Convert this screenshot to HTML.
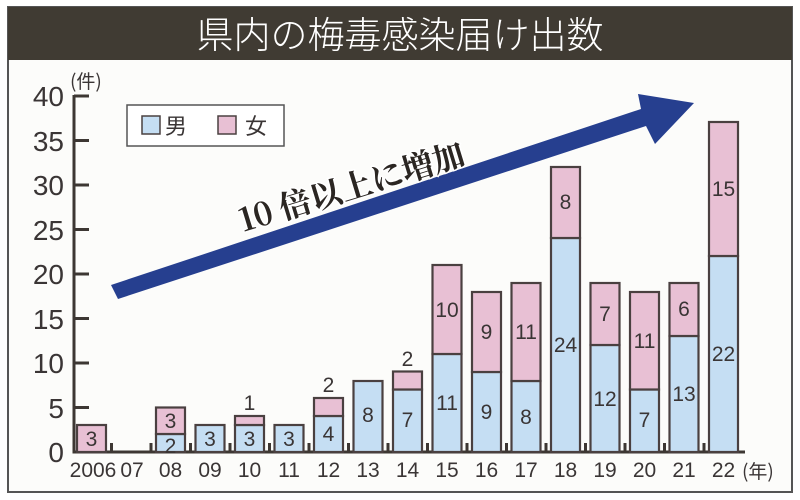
<!DOCTYPE html>
<html><head><meta charset="utf-8"><style>
html,body{margin:0;padding:0;background:#fff;}
svg{display:block;}
text{font-family:"Liberation Sans","Noto Sans CJK JP",sans-serif;}
</style></head><body>
<svg width="800" height="500" viewBox="0 0 800 500" xmlns="http://www.w3.org/2000/svg">
<rect x="0" y="0" width="800" height="500" fill="#ffffff"/>
<rect x="8" y="7" width="784" height="485" fill="#fcfcfa" stroke="#555" stroke-width="2"/>
<rect x="8" y="7" width="784" height="53" fill="#403b33"/>
<text x="400" y="48" text-anchor="middle" font-size="37" fill="#fff" style="font-family:'Noto Sans CJK JP',sans-serif;font-weight:300">県内の梅毒感染届け出数</text>

<g stroke="#3d3733" stroke-width="3" fill="none">
<line x1="74" y1="95" x2="74" y2="453"/>
<line x1="72.5" y1="452" x2="745" y2="452"/>
<line x1="74" y1="96" x2="89" y2="96"/>
<line x1="74" y1="140.5" x2="89" y2="140.5"/>
<line x1="74" y1="185" x2="89" y2="185"/>
<line x1="74" y1="229.5" x2="89" y2="229.5"/>
<line x1="74" y1="274" x2="89" y2="274"/>
<line x1="74" y1="318.5" x2="89" y2="318.5"/>
<line x1="74" y1="363" x2="89" y2="363"/>
<line x1="74" y1="407.5" x2="89" y2="407.5"/>
</g>
<g stroke="#3d3733" stroke-width="3">
<line x1="111.5" y1="443" x2="111.5" y2="452"/><line x1="151" y1="443" x2="151" y2="452"/>
<line x1="190.5" y1="443" x2="190.5" y2="452"/><line x1="230" y1="443" x2="230" y2="452"/>
<line x1="269.5" y1="443" x2="269.5" y2="452"/><line x1="309" y1="443" x2="309" y2="452"/>
<line x1="348.5" y1="443" x2="348.5" y2="452"/><line x1="388" y1="443" x2="388" y2="452"/>
<line x1="427.5" y1="443" x2="427.5" y2="452"/><line x1="467" y1="443" x2="467" y2="452"/>
<line x1="506.5" y1="443" x2="506.5" y2="452"/><line x1="546" y1="443" x2="546" y2="452"/>
<line x1="585.5" y1="443" x2="585.5" y2="452"/><line x1="625" y1="443" x2="625" y2="452"/>
<line x1="664.5" y1="443" x2="664.5" y2="452"/><line x1="704" y1="443" x2="704" y2="452"/>
</g>
<g font-size="28" fill="#3a3535" text-anchor="end">
<text x="64" y="106">40</text><text x="64" y="151">35</text><text x="64" y="195">30</text>
<text x="64" y="240">25</text><text x="64" y="284">20</text><text x="64" y="329">15</text>
<text x="64" y="373">10</text><text x="64" y="418">5</text><text x="64" y="462">0</text>
</g>
<text x="70" y="88" font-size="19" fill="#3a3535" style="font-family:'Noto Sans CJK JP',sans-serif">(件)</text>
<text x="742" y="478" font-size="19" fill="#3a3535" style="font-family:'Noto Sans CJK JP',sans-serif">(年)</text>

<rect x="127" y="105" width="157" height="41" fill="#fff" stroke="#555" stroke-width="1.5"/>
<rect x="142" y="116" width="18" height="18" fill="#c5def3" stroke="#4a4040" stroke-width="1.5"/>
<text x="165" y="134" font-size="22" fill="#3a3535" style="font-family:'Noto Sans CJK JP',sans-serif">男</text>
<rect x="218" y="116" width="18" height="18" fill="#e8c0d4" stroke="#4a4040" stroke-width="1.5"/>
<text x="245" y="134" font-size="22" fill="#3a3535" style="font-family:'Noto Sans CJK JP',sans-serif">女</text>

<g stroke="#4a4040" stroke-width="2.2">
<rect x="77" y="425" width="29" height="27" fill="#e8c0d4"/>
<rect x="156" y="434" width="29" height="18" fill="#c5def3"/><rect x="156" y="407.5" width="29" height="26.5" fill="#e8c0d4"/>
<rect x="195.5" y="425" width="29" height="27" fill="#c5def3"/>
<rect x="235" y="425" width="29" height="27" fill="#c5def3"/><rect x="235" y="416" width="29" height="9" fill="#e8c0d4"/>
<rect x="274.5" y="425" width="29" height="27" fill="#c5def3"/>
<rect x="314" y="416" width="29" height="36" fill="#c5def3"/><rect x="314" y="398" width="29" height="18" fill="#e8c0d4"/>
<rect x="353.5" y="381" width="29" height="71" fill="#c5def3"/>
<rect x="393" y="389.5" width="29" height="62.5" fill="#c5def3"/><rect x="393" y="371.5" width="29" height="18" fill="#e8c0d4"/>
<rect x="432.5" y="354" width="29" height="98" fill="#c5def3"/><rect x="432.5" y="265" width="29" height="89" fill="#e8c0d4"/>
<rect x="472" y="372" width="29" height="80" fill="#c5def3"/><rect x="472" y="292" width="29" height="80" fill="#e8c0d4"/>
<rect x="511.5" y="381" width="29" height="71" fill="#c5def3"/><rect x="511.5" y="283" width="29" height="98" fill="#e8c0d4"/>
<rect x="551" y="238" width="29" height="214" fill="#c5def3"/><rect x="551" y="167" width="29" height="71" fill="#e8c0d4"/>
<rect x="590.5" y="345" width="29" height="107" fill="#c5def3"/><rect x="590.5" y="283" width="29" height="62" fill="#e8c0d4"/>
<rect x="630" y="389.5" width="29" height="62.5" fill="#c5def3"/><rect x="630" y="292" width="29" height="97.5" fill="#e8c0d4"/>
<rect x="669.5" y="336" width="29" height="116" fill="#c5def3"/><rect x="669.5" y="283" width="29" height="53" fill="#e8c0d4"/>
<rect x="709" y="256" width="29" height="196" fill="#c5def3"/><rect x="709" y="122" width="29" height="134" fill="#e8c0d4"/>
</g>
<g font-size="21" fill="#3a3535" text-anchor="middle" style="font-family:'Noto Sans CJK JP',sans-serif;font-weight:300">
<text x="91.5" y="446">3</text>
<text x="170.5" y="453">2</text><text x="170.5" y="428">3</text>
<text x="210" y="446">3</text>
<text x="249.5" y="446">3</text><text x="249.5" y="410">1</text>
<text x="289" y="446">3</text>
<text x="328.5" y="441">4</text><text x="328.5" y="392">2</text>
<text x="368" y="422">8</text>
<text x="407.5" y="427">7</text><text x="407.5" y="366">2</text>
<text x="447" y="410">11</text><text x="447" y="317">10</text>
<text x="486.5" y="419">9</text><text x="486.5" y="339">9</text>
<text x="526" y="424">8</text><text x="526" y="339">11</text>
<text x="565.5" y="352">24</text><text x="565.5" y="209">8</text>
<text x="605" y="406">12</text><text x="605" y="321">7</text>
<text x="644.5" y="427">7</text><text x="644.5" y="348">11</text>
<text x="684" y="401">13</text><text x="684" y="316">6</text>
<text x="723.5" y="361">22</text><text x="723.5" y="196">15</text>
</g>
<g font-size="21" fill="#3a3535" text-anchor="middle" style="font-family:'Noto Sans CJK JP',sans-serif">
<text x="93" y="477">2006</text><text x="132" y="477">07</text><text x="170.5" y="477">08</text>
<text x="210" y="477">09</text><text x="249.5" y="477">10</text><text x="289" y="477">11</text>
<text x="328.5" y="477">12</text><text x="368" y="477">13</text><text x="407.5" y="477">14</text>
<text x="447" y="477">15</text><text x="486.5" y="477">16</text><text x="526" y="477">17</text>
<text x="565.5" y="477">18</text><text x="605" y="477">19</text><text x="644.5" y="477">20</text>
<text x="684" y="477">21</text><text x="723.5" y="477">22</text>
</g>

<polygon points="111,285 118,299 646,126 655,144 694,103 638,94 641,109" fill="#263f8f"/>
<text transform="translate(243,232) rotate(-17)" font-size="32" font-weight="bold" fill="#2b2622" stroke="#fff" stroke-width="3" paint-order="stroke" style="font-family:'Noto Serif CJK SC','Noto Sans CJK JP',serif">10 倍以上に増加</text>
</svg>
</body></html>
